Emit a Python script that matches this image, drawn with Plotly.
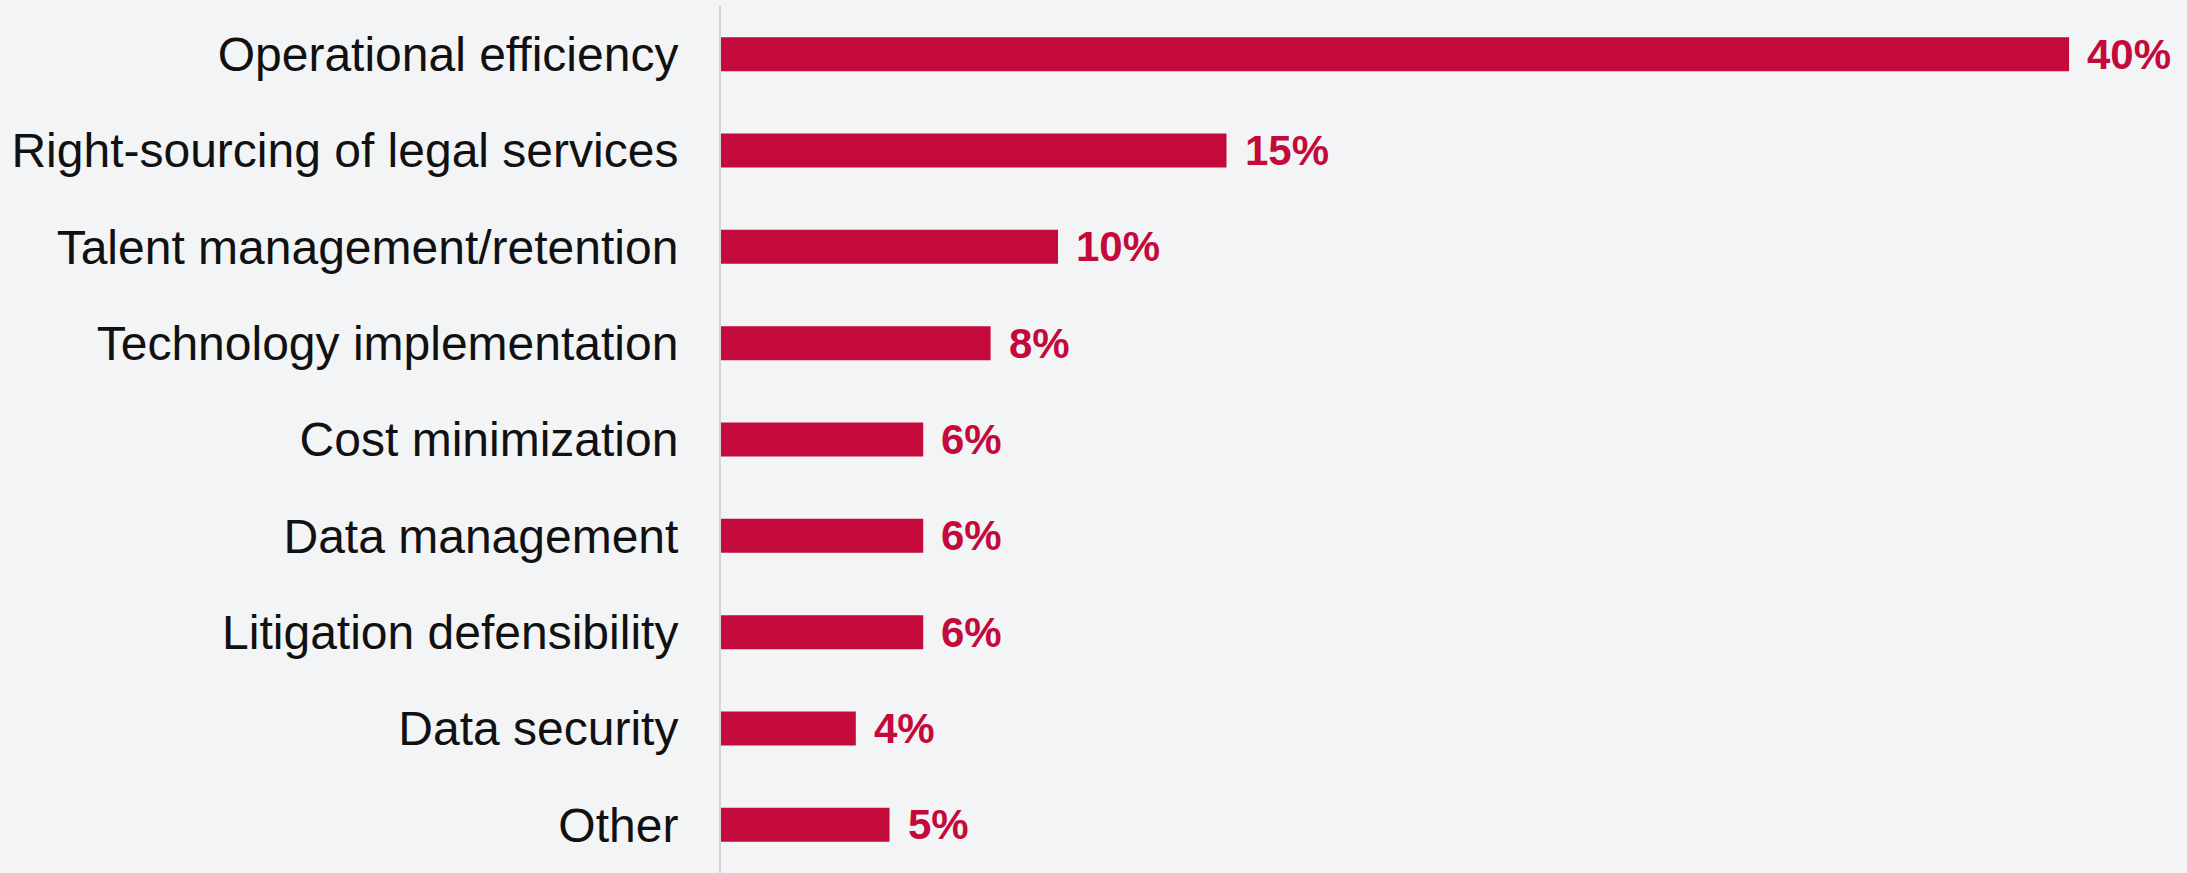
import plotly.graph_objects as go

categories = [
    "Operational efficiency",
    "Right-sourcing of legal services",
    "Talent management/retention",
    "Technology implementation",
    "Cost minimization",
    "Data management",
    "Litigation defensibility",
    "Data security",
    "Other",
]
values = [40, 15, 10, 8, 6, 6, 6, 4, 5]
value_labels = [f"{v}%" for v in values]

BAR = "#C40A3B"

fig = go.Figure()
fig.add_trace(go.Bar(
    x=values,
    y=categories,
    orientation="h",
    marker=dict(color=BAR, line=dict(width=0)),
    width=0.353,
    hoverinfo="skip",
))

for cat, v, lab in zip(categories, values, value_labels):
    fig.add_annotation(
        x=v, y=cat, text=f"<b>{lab}</b>", showarrow=False,
        xanchor="left", yanchor="middle", xshift=16,
        font=dict(family="Liberation Sans, Arial, sans-serif", size=42, color=BAR),
    )

fig.update_layout(
    width=2187, height=873,
    margin=dict(l=721, r=0, t=6, b=0),
    paper_bgcolor="#F3F4F6",
    plot_bgcolor="rgba(0,0,0,0)",
    showlegend=False,
    xaxis=dict(range=[0, 43.5], visible=False, fixedrange=True),
    yaxis=dict(
        categoryorder="array", categoryarray=categories, autorange="reversed",
        showgrid=False, zeroline=False,
        showline=True, linecolor="#D3D5D8", linewidth=2,
        ticks="outside", ticklen=31, tickcolor="rgba(0,0,0,0)",
        tickfont=dict(family="Liberation Sans, Arial, sans-serif", size=48, color="#111111"),
        fixedrange=True,
    ),
)

fig.write_html("out.html")
